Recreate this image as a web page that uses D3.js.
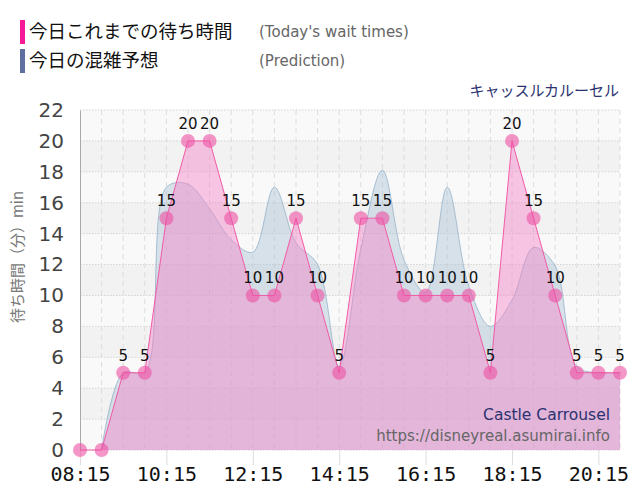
<!DOCTYPE html>
<html>
<head>
<meta charset="utf-8">
<script src="https://cdn.jsdelivr.net/npm/d3@7"></script>
<style>
  body { margin: 0; background: #fff; }
  svg { display: block; }
</style>
</head>
<body>
<svg id="chart" width="640" height="500"></svg>
<script>
const times = ['08:15','08:45','09:15','09:45','10:15','10:45','11:15','11:45','12:15','12:45',
  '13:15','13:45','14:15','14:45','15:15','15:45','16:15','16:45','17:15','17:45',
  '18:15','18:45','19:15','19:45','20:15','20:45'];
const actual = [0, 0, 5, 5, 15, 20, 20, 15, 10, 10, 15, 10, 5, 15, 15, 10, 10, 10, 10, 5, 20, 15, 10, 5, 5, 5];
const prediction = [null, 0, 5, 5, 17, 17.2, 15.6, 13.6, 12.8, 17, 13.4, 12, 5.4, 13, 18.1, 12.3, 10.2, 17, 10.6, 8, 9.7, 13.1, 11.9, 5.4, 5, 5];
const tickTimes = ['08:15','10:15','12:15','14:15','16:15','18:15','20:15'];
const yTicks = [0, 2, 4, 6, 8, 10, 12, 14, 16, 18, 20, 22];

const parse = d3.timeParse('%H:%M');
const fmt = d3.timeFormat('%H:%M');
const width = 640, height = 500;
const margin = { top: 110, right: 20, bottom: 50, left: 80 };
const svg = d3.select('#chart');

const x = d3.scaleTime()
  .domain([parse(times[0]), parse(times[times.length - 1])])
  .range([margin.left, width - margin.right]);
const y = d3.scaleLinear().domain([0, 22]).range([height - margin.bottom, margin.top]);

// background bands
svg.append('g').selectAll('rect').data(yTicks.slice(0, -1)).enter().append('rect')
  .attr('x', margin.left)
  .attr('width', width - margin.right - margin.left)
  .attr('y', d => y(d + 2))
  .attr('height', d => y(d) - y(d + 2))
  .attr('fill', d => (d % 4 === 2 ? '#f2f2f2' : '#f9f9f9'));

// grid
svg.append('g').selectAll('line').data(yTicks).enter().append('line')
  .attr('x1', margin.left).attr('x2', width - margin.right)
  .attr('y1', d => y(d)).attr('y2', d => y(d))
  .attr('stroke', '#d2d2d2').attr('stroke-dasharray', '1.5,1.5');
svg.append('g').selectAll('line').data(times.slice(1)).enter().append('line')
  .attr('x1', d => x(parse(d))).attr('x2', d => x(parse(d)))
  .attr('y1', margin.top).attr('y2', height - margin.bottom)
  .attr('stroke', '#dcdcdc').attr('stroke-dasharray', '5,4');

// x axis
const xAxis = svg.append('g')
  .attr('transform', `translate(0,${height - margin.bottom})`)
  .call(d3.axisBottom(x).tickValues(tickTimes.map(parse)).tickFormat(fmt).tickSize(15).tickPadding(2));
xAxis.select('.domain').remove();
xAxis.selectAll('line').attr('stroke', '#dddddd');
xAxis.selectAll('text')
  .attr('font-family', '"DejaVu Sans Mono", monospace')
  .attr('font-size', 20).attr('fill', '#111');

// y axis
const yAxis = svg.append('g')
  .attr('transform', `translate(${margin.left},0)`)
  .call(d3.axisLeft(y).tickValues(yTicks).tickSize(0).tickPadding(16));
yAxis.select('.domain').attr('stroke', '#aaaaaa');
yAxis.selectAll('text')
  .attr('font-family', '"DejaVu Sans", sans-serif')
  .attr('font-size', 20).attr('fill', '#444');

svg.append('text')
  .attr('transform', 'translate(23,257) rotate(-90)')
  .attr('text-anchor', 'middle')
  .attr('font-family', '"Noto Sans CJK JP", sans-serif')
  .attr('font-size', 15).attr('fill', '#777')
  .text('待ち時間（分）min');

// prediction area
const predData = times.map((t, i) => ({ t: parse(t), v: prediction[i] })).filter(d => d.v !== null);
const curve = d3.curveCatmullRom.alpha(0.5);
const predArea = d3.area().x(d => x(d.t)).y0(y(0)).y1(d => y(d.v)).curve(curve);
const predLine = d3.line().x(d => x(d.t)).y(d => y(d.v)).curve(curve);
svg.append('path').datum(predData).attr('d', predArea).attr('fill', 'rgba(170,195,215,0.45)');
svg.append('path').datum(predData).attr('d', predLine)
  .attr('fill', 'none').attr('stroke', 'rgba(150,178,200,0.8)').attr('stroke-width', 1);

// actual area
const actData = times.map((t, i) => ({ t: parse(t), v: actual[i] }));
const actArea = d3.area().x(d => x(d.t)).y0(y(0)).y1(d => y(d.v));
const actLine = d3.line().x(d => x(d.t)).y(d => y(d.v));
svg.append('path').datum(actData).attr('d', actArea).attr('fill', 'rgba(245,130,200,0.45)');
svg.append('path').datum(actData).attr('d', actLine)
  .attr('fill', 'none').attr('stroke', '#f25aa5').attr('stroke-width', 1);

svg.append('g').selectAll('circle').data(actData).enter().append('circle')
  .attr('cx', d => x(d.t)).attr('cy', d => y(d.v)).attr('r', 7)
  .attr('fill', 'rgba(238,80,165,0.6)');

svg.append('g').selectAll('text').data(actData.filter(d => d.v > 0)).enter().append('text')
  .attr('x', d => x(d.t)).attr('y', d => y(d.v) - 12)
  .attr('text-anchor', 'middle')
  .attr('font-family', '"DejaVu Sans", sans-serif')
  .attr('font-size', 15).attr('fill', '#111')
  .text(d => d.v);

// legend
const legend = [
  { color: '#f5199a', jp: '今日これまでの待ち時間', en: "(Today's wait times)", y: 20 },
  { color: '#5f6fa0', jp: '今日の混雑予想', en: '(Prediction)', y: 49 }
];
const lg = svg.append('g').selectAll('g').data(legend).enter().append('g');
lg.append('rect').attr('x', 20).attr('y', d => d.y).attr('width', 5).attr('height', 24).attr('fill', d => d.color);
lg.append('text').attr('x', 29).attr('y', d => d.y + 18)
  .attr('font-family', '"Noto Sans CJK JP", sans-serif').attr('font-size', 18.5).attr('fill', '#111')
  .text(d => d.jp);
lg.append('text').attr('x', 259).attr('y', d => d.y + 17)
  .attr('font-family', '"DejaVu Sans", sans-serif').attr('font-size', 15).attr('fill', '#666')
  .text(d => d.en);

svg.append('text').attr('x', 619).attr('y', 96).attr('text-anchor', 'end')
  .attr('font-family', '"Noto Sans CJK JP", sans-serif').attr('font-size', 15).attr('fill', '#2b3270')
  .text('キャッスルカルーセル');

svg.append('text').attr('x', 610).attr('y', 420).attr('text-anchor', 'end')
  .attr('font-family', '"DejaVu Sans", sans-serif').attr('font-size', 15.5).attr('fill', '#2b3270')
  .text('Castle Carrousel');
svg.append('text').attr('x', 610).attr('y', 441).attr('text-anchor', 'end')
  .attr('font-family', '"DejaVu Sans", sans-serif').attr('font-size', 15).attr('fill', '#666')
  .text('https://disneyreal.asumirai.info');
</script>
</body>
</html>
